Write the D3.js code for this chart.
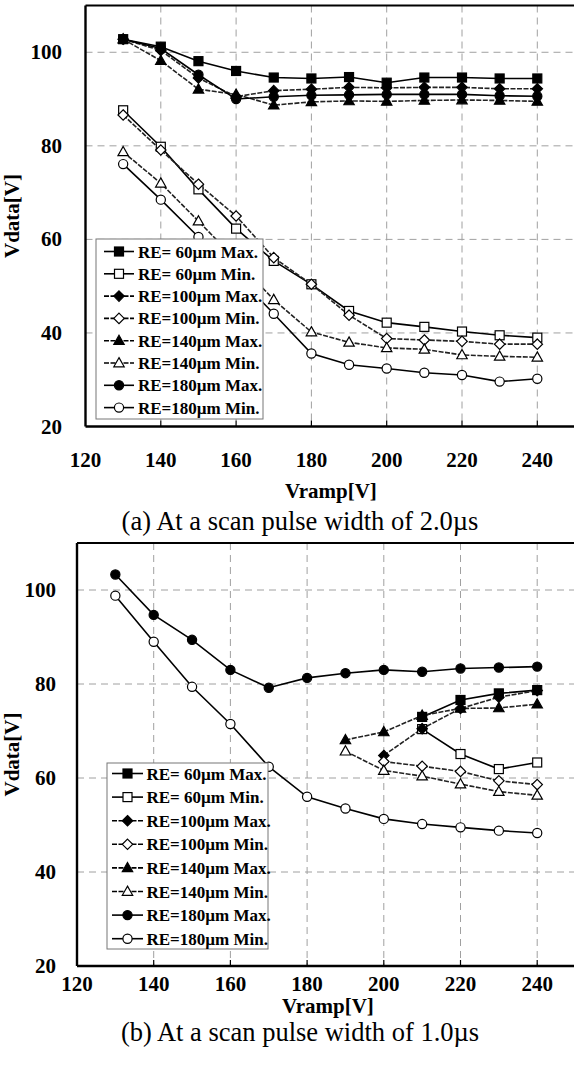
<!DOCTYPE html>
<html>
<head>
<meta charset="utf-8">
<script src="https://cdn.jsdelivr.net/npm/d3@7"></script>
<style>
  html, body { margin: 0; padding: 0; background: #fff; }
  svg { display: block; }
  svg text { font-family: "Liberation Serif", "DejaVu Serif", serif; fill: #000; }
</style>
</head>
<body>
<svg id="fig" width="574" height="1068"></svg>
<script>
// Ramp voltage steps (x values) shared by both panels
const vramp = [130, 140, 150, 160, 170, 180, 190, 200, 210, 220, 230, 240];
const xTicks = [120, 140, 160, 180, 200, 220, 240];
const yTicks = [20, 40, 60, 80, 100];

// Panel (a): scan pulse width 2.0 us
const a60Max  = [102.8, 101.2, 98.1, 96.0, 94.6, 94.4, 94.7, 93.5, 94.6, 94.6, 94.4, 94.4];
const a60Min  = [87.6, 79.8, 70.7, 62.3, 55.4, 50.4, 44.7, 42.2, 41.3, 40.3, 39.5, 39.0];
const a100Max = [102.8, 100.4, 94.5, 90.5, 91.8, 92.1, 92.5, 92.4, 92.5, 92.5, 92.2, 92.2];
const a100Min = [86.6, 79.1, 71.8, 65.0, 56.1, 50.4, 43.8, 38.8, 38.5, 38.2, 37.6, 37.6];
const a140Max = [102.8, 98.2, 92.1, 91.0, 88.7, 89.4, 89.6, 89.5, 89.7, 89.8, 89.7, 89.5];
const a140Min = [78.7, 72.0, 63.9, 55.6, 47.1, 40.2, 38.0, 36.8, 36.5, 35.3, 35.0, 34.8];
const a180Max = [102.8, 100.8, 95.2, 90.0, 90.5, 90.8, 90.9, 91.0, 91.0, 91.0, 90.7, 90.6];
const a180Min = [76.1, 68.5, 60.5, 52.4, 44.1, 35.6, 33.2, 32.4, 31.5, 31.0, 29.6, 30.2];

// Panel (b): scan pulse width 1.0 us (null = no measurement)
const b60Max  = [null, null, null, null, null, null, null, null, 73.0, 76.6, 78.0, 78.7];
const b60Min  = [null, null, null, null, null, null, null, null, 70.4, 65.1, 61.9, 63.3];
const b100Max = [null, null, null, null, null, null, null, 64.8, 70.5, 74.8, 77.2, 78.6];
const b100Min = [null, null, null, null, null, null, null, 63.5, 62.5, 61.4, 59.4, 58.6];
const b140Max = [null, null, null, null, null, null, 68.1, 69.8, 73.3, 74.8, 74.9, 75.7];
const b140Min = [null, null, null, null, null, null, 65.7, 61.6, 60.4, 58.7, 57.1, 56.3];
const b180Max = [103.3, 94.7, 89.4, 83.0, 79.2, 81.3, 82.3, 83.0, 82.6, 83.3, 83.5, 83.7];
const b180Min = [98.8, 89.0, 79.4, 71.5, 62.4, 56.0, 53.5, 51.3, 50.2, 49.5, 48.8, 48.3];

const seriesNames = ["RE= 60\u00b5m Max.", "RE= 60\u00b5m Min.", "RE=100\u00b5m Max.", "RE=100\u00b5m Min.",
                     "RE=140\u00b5m Max.", "RE=140\u00b5m Min.", "RE=180\u00b5m Max.", "RE=180\u00b5m Min."];
const markerShapes = ["square", "square", "diamond", "diamond", "triangle", "triangle", "circle", "circle"];
const markerFilled = [true, false, true, false, true, false, true, false];
const lineDashed   = [false, false, true, true, true, true, false, false];

const FONT = "'Liberation Serif', 'DejaVu Serif', serif";

const panels = [
  {
    values: [a60Max, a60Min, a100Max, a100Min, a140Max, a140Min, a180Max, a180Min],
    x0: 85.5, pxPerV: 3.765, yTop: 5.5, yBot: 426.5,
    labelRight: 62, xLabelY: 460, titleX: 331, titleY: 498, captionY: 530,
    legend: { x: 96, y: 239, w: 167, h: 180, row: 22.3, first: 12.5, lineX0: 104, lineX1: 134, textX: 138 },
    caption: "(a) At a scan pulse width of 2.0\u00b5s"
  },
  {
    values: [b60Max, b60Min, b100Max, b100Min, b140Max, b140Min, b180Max, b180Min],
    x0: 77, pxPerV: 3.835, yTop: 543, yBot: 966,
    labelRight: 56, xLabelY: 984, titleX: 328, titleY: 1013, captionY: 1041,
    legend: { x: 107, y: 763, w: 161, h: 186, row: 23.6, first: 10.5, lineX0: 112, lineX1: 143, textX: 146.5 },
    caption: "(b) At a scan pulse width of 1.0\u00b5s"
  }
];

const svg = d3.select("#fig").attr("font-family", FONT);

function drawMarker(g, shape, filled, cx, cy) {
  const fill = filled ? "#000" : "#fff";
  const common = s => s.attr("fill", fill).attr("stroke", "#000").attr("stroke-width", 1.2);
  if (shape === "square") {
    common(g.append("rect").attr("x", cx - 4.5).attr("y", cy - 4.5).attr("width", 9).attr("height", 9));
  } else if (shape === "circle") {
    common(g.append("circle").attr("cx", cx).attr("cy", cy).attr("r", 4.6));
  } else if (shape === "triangle") {
    common(g.append("path").attr("d", `M${cx},${cy - 5.4}L${cx + 5.2},${cy + 3.8}L${cx - 5.2},${cy + 3.8}Z`));
  } else {
    common(g.append("path").attr("d", `M${cx},${cy - 5.2}L${cx + 5.2},${cy}L${cx},${cy + 5.2}L${cx - 5.2},${cy}Z`));
  }
}

function label(sel) {
  return sel.attr("font-family", FONT).style("font-family", FONT);
}

panels.forEach(p => {
  const x = d3.scaleLinear().domain([120, 260]).range([p.x0, p.x0 + 140 * p.pxPerV]);
  const y = d3.scaleLinear().domain([20, 110]).range([p.yBot, p.yTop]);
  const g = svg.append("g");
  const right = 574;

  // dashed grid
  g.append("g").selectAll("line").data(yTicks.filter(t => t > 20)).join("line")
    .attr("x1", p.x0).attr("x2", right).attr("y1", d => y(d)).attr("y2", d => y(d))
    .attr("stroke", "#a0a0a0").attr("stroke-width", 1).attr("stroke-dasharray", "7,5");
  g.append("g").selectAll("line").data(xTicks.filter(t => t > 120)).join("line")
    .attr("x1", d => x(d)).attr("x2", d => x(d)).attr("y1", p.yTop).attr("y2", p.yBot)
    .attr("stroke", "#a0a0a0").attr("stroke-width", 1).attr("stroke-dasharray", "7,5");

  // inward tick marks on the bottom axis
  g.append("g").selectAll("line").data(xTicks.filter(t => t > 120)).join("line")
    .attr("x1", d => x(d)).attr("x2", d => x(d)).attr("y1", p.yBot).attr("y2", p.yBot - 6)
    .attr("stroke", "#000").attr("stroke-width", 1.2);

  // data lines and markers
  const line = d3.line().defined(d => d[1] != null).x(d => x(d[0])).y(d => y(d[1]));
  p.values.forEach((vals, i) => {
    const pts = vramp.map((v, k) => [v, vals[k]]);
    g.append("path").datum(pts).attr("d", line).attr("fill", "none")
      .attr("stroke", lineDashed[i] ? "#222" : "#000").attr("stroke-width", 1.6)
      .attr("stroke-dasharray", lineDashed[i] ? "5,1.5" : null);
  });
  p.values.forEach((vals, i) => {
    const mg = g.append("g");
    vramp.forEach((v, k) => {
      if (vals[k] != null) drawMarker(mg, markerShapes[i], markerFilled[i], x(v), y(vals[k]));
    });
  });

  // frame: left, bottom, top
  g.append("line").attr("x1", p.x0).attr("x2", p.x0).attr("y1", p.yTop).attr("y2", p.yBot)
    .attr("stroke", "#000").attr("stroke-width", 2.4);
  g.append("line").attr("x1", p.x0).attr("x2", right).attr("y1", p.yBot).attr("y2", p.yBot)
    .attr("stroke", "#000").attr("stroke-width", 2.6);
  g.append("line").attr("x1", p.x0).attr("x2", right).attr("y1", p.yTop).attr("y2", p.yTop)
    .attr("stroke", "#000").attr("stroke-width", 2.2);

  // y tick labels
  label(g.append("g").selectAll("text").data(yTicks).join("text"))
    .attr("x", p.labelRight).attr("y", d => y(d) + 7)
    .attr("text-anchor", "end").attr("font-size", 21).attr("font-weight", "bold")
    .text(d => d);
  // x tick labels
  label(g.append("g").selectAll("text").data(xTicks).join("text"))
    .attr("x", d => x(d)).attr("y", p.xLabelY + 7)
    .attr("text-anchor", "middle").attr("font-size", 21).attr("font-weight", "bold")
    .text(d => d);

  // axis titles
  label(g.append("text")).attr("x", p.titleX).attr("y", p.titleY)
    .attr("text-anchor", "middle").attr("font-size", 21).attr("font-weight", "bold").text("Vramp[V]");
  label(g.append("text"))
    .attr("transform", `translate(19,${(p.yTop + p.yBot) / 2}) rotate(-90)`)
    .attr("text-anchor", "middle").attr("font-size", 21).attr("font-weight", "bold").text("Vdata[V]");

  // caption
  label(g.append("text")).attr("x", 300).attr("y", p.captionY)
    .attr("text-anchor", "middle").attr("font-size", 26.5).text(p.caption);

  // legend
  const L = p.legend;
  const lg = g.append("g");
  lg.append("rect").attr("x", L.x).attr("y", L.y).attr("width", L.w).attr("height", L.h)
    .attr("fill", "#fff").attr("stroke", "#777").attr("stroke-width", 1);
  seriesNames.forEach((name, i) => {
    const cy = L.y + L.first + i * L.row;
    lg.append("line").attr("x1", L.lineX0).attr("x2", L.lineX1).attr("y1", cy).attr("y2", cy)
      .attr("stroke", "#000").attr("stroke-width", 1.6)
      .attr("stroke-dasharray", lineDashed[i] ? "5,1.5" : null);
    drawMarker(lg, markerShapes[i], markerFilled[i], (L.lineX0 + L.lineX1) / 2, cy);
    label(lg.append("text")).attr("x", L.textX).attr("y", cy + 6)
      .attr("font-size", 17).attr("font-weight", "bold").text(name);
  });
});
</script>
</body>
</html>
